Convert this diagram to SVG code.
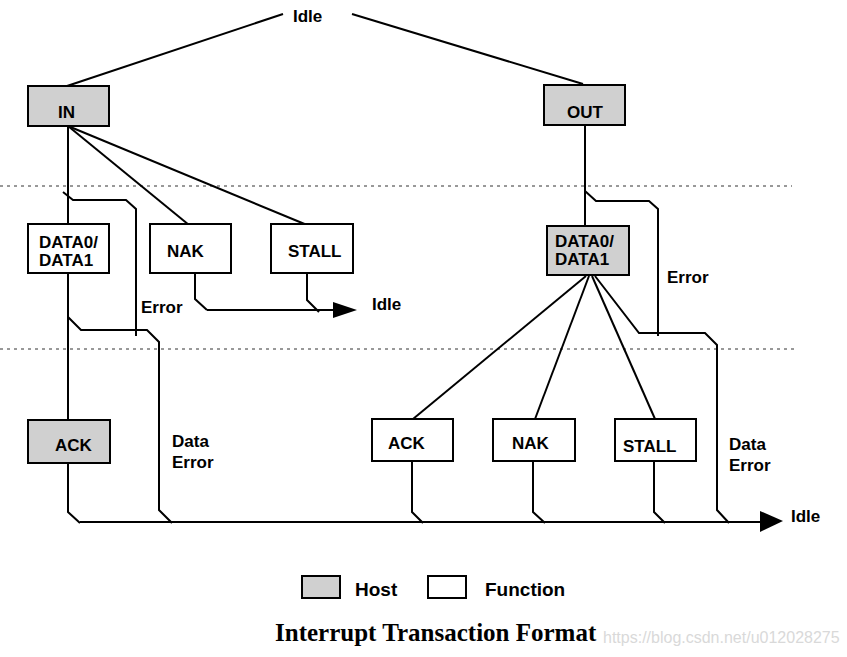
<svg xmlns="http://www.w3.org/2000/svg" width="847" height="657" viewBox="0 0 847 657">
<style>
.bg{fill:#ffffff}
.host{fill:#d0d0d0;stroke:#000;stroke-width:2}
.func{fill:#ffffff;stroke:#000;stroke-width:2}
.ln{fill:none;stroke:#000;stroke-width:2;stroke-linejoin:miter}
.dot{fill:none;stroke:#333;stroke-width:1;stroke-dasharray:3,4}
.t{font-family:"Liberation Sans",Arial,Helvetica,sans-serif;font-weight:bold;font-size:17px;fill:#000}
.lg{font-family:"Liberation Sans",Arial,Helvetica,sans-serif;font-weight:bold;font-size:19px;fill:#000}
.title{font-family:"Liberation Serif","Times New Roman",serif;font-weight:bold;font-size:25px;fill:#000}
.wm{font-family:"Liberation Sans",Arial,sans-serif;font-size:16px;fill:#d9d9d9}
.arr{fill:#000;stroke:none}
</style>
<rect class="bg" x="0" y="0" width="847" height="657"/>
<g id="separators">
<line class="dot" x1="0" y1="186" x2="792" y2="186"/>
<line class="dot" x1="0" y1="349" x2="795" y2="349"/>
</g>
<g id="connectors">
<line class="ln" x1="67" y1="86" x2="283" y2="14"/>
<line class="ln" x1="352" y1="14" x2="583" y2="84"/>
<line class="ln" x1="68" y1="126" x2="68" y2="225"/>
<line class="ln" x1="68" y1="126" x2="189" y2="225"/>
<line class="ln" x1="68" y1="126" x2="307" y2="225"/>
<polyline class="ln" points="63,192 73,200 126,200 136,209 136,336"/>
<line class="ln" x1="68" y1="273" x2="68" y2="420"/>
<polyline class="ln" points="68,317 81,330 147,330 159,342 159,510 172,523"/>
<polyline class="ln" points="195,273 195,299 207,310"/>
<polyline class="ln" points="307,273 307,300 319,312"/>
<line class="ln" x1="207" y1="310" x2="336" y2="310"/>
<polygon class="arr" points="333,302 357,310 333,318"/>
<line class="ln" x1="585" y1="125" x2="585" y2="226"/>
<polyline class="ln" points="585,191 596,201 649,201 658,209 658,336"/>
<line class="ln" x1="586" y1="276" x2="413" y2="419"/>
<line class="ln" x1="589" y1="276" x2="535" y2="419"/>
<line class="ln" x1="592" y1="276" x2="655" y2="419"/>
<polyline class="ln" points="595,276 639,333 705,333 717,345 717,510 729,523"/>
<polyline class="ln" points="68,463 68,512 80,523"/>
<polyline class="ln" points="412,461 412,512 423,523"/>
<polyline class="ln" points="533,461 533,512 545,523"/>
<polyline class="ln" points="654,458 654,512 665,523"/>
<line class="ln" x1="80" y1="522" x2="763" y2="522"/>
<polygon class="arr" points="760,511 783,521 760,532"/>
</g>
<g id="idle-top"><text class="t" x="293" y="22">Idle</text></g>
<g id="in"><rect class="host" x="28" y="86" width="81" height="40"/><text class="t" x="58" y="118">IN</text></g>
<g id="out"><rect class="host" x="544" y="85" width="81" height="40"/><text class="t" x="567" y="118">OUT</text></g>
<g id="in-data"><rect class="func" x="28" y="224" width="81" height="49"/><text class="t" x="39" y="248">DATA0/</text><text class="t" x="39" y="266">DATA1</text></g>
<g id="in-nak"><rect class="func" x="150" y="224" width="81" height="49"/><text class="t" x="167" y="257">NAK</text></g>
<g id="in-stall"><rect class="func" x="271" y="224" width="82" height="49"/><text class="t" x="288" y="257">STALL</text></g>
<g id="in-error"><text class="t" x="141" y="313">Error</text></g>
<g id="idle-mid"><text class="t" x="372" y="310">Idle</text></g>
<g id="in-ack"><rect class="host" x="28" y="420" width="82" height="43"/><text class="t" x="55" y="451">ACK</text></g>
<g id="in-data-error"><text class="t" x="172" y="447">Data</text><text class="t" x="172" y="468">Error</text></g>
<g id="out-data"><rect class="host" x="547" y="226" width="82" height="49"/><text class="t" x="555" y="247">DATA0/</text><text class="t" x="555" y="265">DATA1</text></g>
<g id="out-error"><text class="t" x="667" y="283">Error</text></g>
<g id="out-ack"><rect class="func" x="372" y="419" width="81" height="42"/><text class="t" x="388" y="449">ACK</text></g>
<g id="out-nak"><rect class="func" x="493" y="419" width="82" height="42"/><text class="t" x="512" y="449">NAK</text></g>
<g id="out-stall"><rect class="func" x="615" y="419" width="81" height="42"/><text class="t" x="623" y="452">STALL</text></g>
<g id="out-data-error"><text class="t" x="729" y="450">Data</text><text class="t" x="729" y="471">Error</text></g>
<g id="idle-bottom"><text class="t" x="791" y="522">Idle</text></g>
<g id="legend">
<rect class="host" x="302" y="576" width="38" height="22"/>
<text class="lg" x="355" y="596">Host</text>
<rect class="func" x="428" y="576" width="38" height="22"/>
<text class="lg" x="485" y="596">Function</text>
</g>
<g id="caption">
<text class="title" x="275" y="641">Interrupt Transaction Format</text>
<text class="wm" x="603" y="643">https://blog.csdn.net/u012028275</text>
</g>
</svg>
